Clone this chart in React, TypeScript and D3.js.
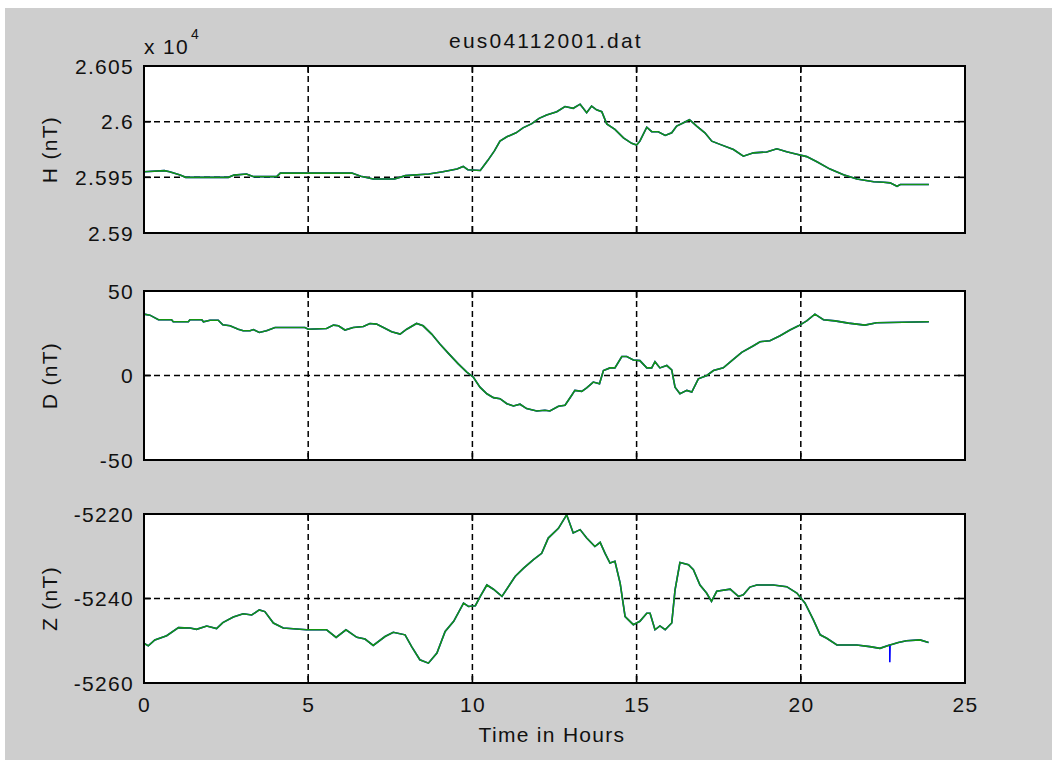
import React from "react";
import * as d3 from "d3";

// ---------- data ----------
const TITLE = "eus04112001.dat";
const X_LABEL = "Time in Hours";
const X_TICKS = [0, 5, 10, 15, 20, 25];

const H_LABEL = "H (nT)";
const H_TICKS = [25900, 25950, 26000, 26050];
const H_TICK_LABELS = ["2.59", "2.595", "2.6", "2.605"];
const H_POINTS: [number, number][] = [
  [0, 25955], [0.62, 25956], [0.78, 25955], [1.1, 25952], [1.27, 25950], [2.57, 25950],
  [2.74, 25952], [3.12, 25953], [3.34, 25950.6], [4.04, 25950.6], [4.15, 25953.8],
  [6.33, 25953.8], [6.6, 25951], [6.98, 25948.5], [7.63, 25948.5], [7.96, 25951.5],
  [8.67, 25953], [9.1, 25955], [9.53, 25957.4], [9.72, 25959.8], [9.86, 25956.8],
  [10.24, 25956.2], [10.46, 25964.8], [10.67, 25973.7], [10.84, 25982.5], [11.05, 25986.4],
  [11.33, 25990], [11.54, 25994.4], [11.81, 25998.2], [12.03, 26003], [12.26, 26006],
  [12.57, 26009], [12.82, 26013.6], [13.07, 26012], [13.28, 26015.7], [13.48, 26008],
  [13.63, 26014], [13.78, 26010.6], [13.94, 26009], [14.09, 25998], [14.34, 25993],
  [14.6, 25985.5], [14.85, 25980.5], [15.0, 25979], [15.1, 25982.5], [15.31, 25995],
  [15.46, 25991], [15.66, 25991], [15.87, 25987.6], [16.07, 25990], [16.22, 25996],
  [16.43, 25999], [16.61, 26001.8], [16.83, 25996], [17.08, 25990], [17.29, 25982.5],
  [17.54, 25979.6], [17.95, 25975], [18.25, 25969], [18.56, 25972], [18.96, 25972.8],
  [19.27, 25975.7], [19.57, 25973], [19.88, 25970.7], [20.18, 25968.6], [20.49, 25964],
  [20.89, 25957.4], [21.3, 25952.4], [21.71, 25948.5], [22.22, 25946], [22.52, 25945.6],
  [22.72, 25945], [22.93, 25942], [23.03, 25943.5], [23.9, 25943.5],
];

const D_LABEL = "D (nT)";
const D_TICKS = [-50, 0, 50];
const D_TICK_LABELS = ["-50", "0", "50"];
const D_POINTS: [number, number][] = [
  [0, 36.3], [0.18, 35.7], [0.44, 33], [0.84, 33], [0.89, 31.8], [1.35, 31.8], [1.4, 33],
  [1.76, 33], [1.81, 31.8], [2.01, 32.7], [2.26, 32.7], [2.4, 30], [2.62, 29.4], [2.87, 27.4],
  [3.02, 26.5], [3.23, 26.5], [3.33, 27.2], [3.51, 25.5], [3.73, 26.5], [3.99, 28.4],
  [4.9, 28.4], [5.0, 27.4], [5.56, 27.8], [5.77, 29.8], [5.92, 29.4], [6.12, 26.9],
  [6.37, 28.4], [6.68, 29], [6.88, 30.8], [7.08, 30.4], [7.29, 28.4], [7.54, 25.9],
  [7.8, 24.5], [8.0, 27.4], [8.3, 30.8], [8.5, 29.4], [8.76, 24.5], [9.01, 18.6],
  [9.27, 13.1], [9.57, 6.9], [9.83, 2], [10.03, -1], [10.23, -6.9], [10.44, -10.8],
  [10.64, -13.1], [10.84, -13.7], [11.05, -16.7], [11.25, -18], [11.45, -17], [11.65, -19.6],
  [11.96, -21], [12.21, -20.6], [12.36, -21], [12.62, -18.2], [12.82, -17.6], [13.02, -11.8],
  [13.12, -8.8], [13.33, -9.4], [13.48, -7.3], [13.68, -3.9], [13.87, -4.9], [13.99, 2.9],
  [14.19, 4.5], [14.34, 4.5], [14.55, 11.2], [14.7, 11.2], [14.9, 9.2], [15.1, 8.8],
  [15.31, 4.5], [15.46, 4.5], [15.56, 8.2], [15.71, 4.5], [15.92, 5.9], [16.07, 3.3],
  [16.17, -6.9], [16.32, -10.8], [16.53, -8.8], [16.68, -9.8], [16.88, -2], [17.14, 0],
  [17.34, 2.9], [17.64, 4.5], [17.9, 8.8], [18.2, 13.7], [18.56, 17.6], [18.76, 20],
  [19.06, 20.6], [19.37, 23.5], [19.67, 26.9], [19.93, 29.4], [20.18, 32.3], [20.43, 36.3],
  [20.69, 33], [21.04, 32.3], [21.45, 31], [21.95, 29.8], [22.31, 31.2], [23.9, 31.8],
];

const Z_LABEL = "Z (nT)";
const Z_TICKS = [-5260, -5240, -5220];
const Z_TICK_LABELS = ["-5260", "-5240", "-5220"];
const Z_POINTS: [number, number][] = [
  [0, -5250.6], [0.13, -5251.2], [0.33, -5249.8], [0.69, -5248.8], [1.05, -5246.9],
  [1.4, -5247], [1.6, -5247.3], [1.91, -5246.5], [2.21, -5247.1], [2.4, -5245.7],
  [2.72, -5244.4], [3.02, -5243.6], [3.28, -5243.9], [3.51, -5242.7], [3.68, -5243.1],
  [3.94, -5245.8], [4.24, -5247], [4.95, -5247.4], [5.56, -5247.4], [5.85, -5249.2],
  [6.15, -5247.4], [6.48, -5249.2], [6.73, -5249.6], [6.98, -5251.1], [7.34, -5249],
  [7.59, -5248], [7.95, -5248.6], [8.15, -5251.4], [8.4, -5254.5], [8.66, -5255.3],
  [8.92, -5252.9], [9.17, -5247.8], [9.43, -5245.4], [9.73, -5241.1], [9.88, -5241.9],
  [10.09, -5241.7], [10.24, -5239.5], [10.44, -5236.8], [10.64, -5237.8], [10.9, -5239.5],
  [11.3, -5234.8], [11.56, -5232.8], [11.86, -5230.8], [12.11, -5229.3], [12.31, -5225.7],
  [12.62, -5223.4], [12.87, -5220.2], [13.07, -5224.5], [13.28, -5223.7], [13.48, -5225.7],
  [13.73, -5227.7], [13.89, -5226.7], [14.04, -5229.3], [14.19, -5231.6], [14.34, -5231.2],
  [14.5, -5236.4], [14.65, -5244.3], [14.9, -5246.2], [15.1, -5245.4], [15.31, -5243.5],
  [15.41, -5243.5], [15.56, -5247.4], [15.71, -5246.5], [15.87, -5247.4], [16.07, -5245.8],
  [16.17, -5238], [16.32, -5231.5], [16.58, -5232], [16.73, -5233.2], [16.93, -5236.8],
  [17.13, -5238.7], [17.28, -5240.7], [17.44, -5238.3], [17.85, -5237.8], [18.1, -5239.5],
  [18.25, -5239.1], [18.45, -5237.3], [18.66, -5236.8], [19.16, -5236.8], [19.57, -5237.2],
  [19.88, -5238.7], [20.13, -5241.1], [20.38, -5245], [20.59, -5248.6], [20.79, -5249.4],
  [21.1, -5251], [21.7, -5251], [22.1, -5251.4], [22.41, -5251.8], [22.71, -5251],
  [22.97, -5250.4], [23.22, -5250], [23.63, -5249.8], [23.89, -5250.4],
];
// raw (blue) Z has a one-sample spike
const Z_RAW_SPIKE: [number, number][] = [[22.7, -5251], [22.71, -5255.1], [22.72, -5251]];

// ---------- layout ----------
const W = 1052;
const H = 760;
const LEFT = 144;
const RIGHT = 965;
const FONT = "'Liberation Sans', Arial, sans-serif";
const FS = 21;
const LS = 1.3;

type Panel = {
  top: number;
  bottom: number;
  domain: [number, number];
  ticks: number[];
  tickLabels: string[];
  label: string;
  green: [number, number][];
  blue: [number, number][];
};

const PANELS: Panel[] = [
  {
    top: 66, bottom: 233, domain: [25900, 26050], ticks: H_TICKS, tickLabels: H_TICK_LABELS,
    label: H_LABEL, green: H_POINTS, blue: H_POINTS,
  },
  {
    top: 291, bottom: 460, domain: [-50, 50], ticks: D_TICKS, tickLabels: D_TICK_LABELS,
    label: D_LABEL, green: D_POINTS, blue: D_POINTS,
  },
  {
    top: 514, bottom: 683, domain: [-5260, -5220], ticks: Z_TICKS, tickLabels: Z_TICK_LABELS,
    label: Z_LABEL, green: Z_POINTS,
    blue: [...Z_POINTS, ...Z_RAW_SPIKE].sort((a, b) => a[0] - b[0]),
  },
];

export default function App() {
  const x = d3.scaleLinear().domain([0, 25]).range([LEFT, RIGHT]);
  const TICK = 7;

  return (
    <div style={{ position: "absolute", left: 0, top: 0, width: W, height: H }}>
      <svg width={W} height={H} style={{ display: "block" }} fontFamily={FONT}>
        <rect x={0} y={0} width={W} height={H} fill="#ffffff" />
        <rect x={5} y={8} width={W - 5} height={H - 8} fill="#cecece" />
        <defs>
          {PANELS.map((p, i) => (
            <clipPath id={`clip${i}`} key={i}>
              <rect x={LEFT} y={p.top} width={RIGHT - LEFT} height={p.bottom - p.top} />
            </clipPath>
          ))}
        </defs>

        {PANELS.map((p, i) => {
          const y = d3.scaleLinear().domain(p.domain).range([p.bottom, p.top]);
          const line = d3
            .line<[number, number]>()
            .x((d) => x(d[0]))
            .y((d) => y(d[1]));
          const isLast = i === PANELS.length - 1;
          return (
            <g key={i}>
              <rect x={LEFT} y={p.top} width={RIGHT - LEFT} height={p.bottom - p.top} fill="#ffffff" />
              {/* grid */}
              {X_TICKS.filter((t) => t > 0 && t < 25).map((t) => (
                <line key={`gx${t}`} x1={x(t)} x2={x(t)} y1={p.top} y2={p.bottom}
                  stroke="#000" strokeWidth={1.5} strokeDasharray="6,4" />
              ))}
              {p.ticks.slice(1, -1).map((t) => (
                <line key={`gy${t}`} x1={LEFT} x2={RIGHT} y1={y(t)} y2={y(t)}
                  stroke="#000" strokeWidth={1.5} strokeDasharray="6,4" />
              ))}
              {/* ticks (inside) */}
              {X_TICKS.map((t) => (
                <g key={`tx${t}`}>
                  <line x1={x(t)} x2={x(t)} y1={p.bottom} y2={p.bottom - TICK} stroke="#000" strokeWidth={1.6} />
                  <line x1={x(t)} x2={x(t)} y1={p.top} y2={p.top + TICK} stroke="#000" strokeWidth={1.6} />
                </g>
              ))}
              {p.ticks.map((t) => (
                <g key={`ty${t}`}>
                  <line x1={LEFT} x2={LEFT + TICK} y1={y(t)} y2={y(t)} stroke="#000" strokeWidth={1.6} />
                  <line x1={RIGHT} x2={RIGHT - TICK} y1={y(t)} y2={y(t)} stroke="#000" strokeWidth={1.6} />
                </g>
              ))}
              {/* data */}
              <g clipPath={`url(#clip${i})`}>
                <path d={line(p.blue) || ""} fill="none" stroke="#0000ff" strokeWidth={1.6}
                  strokeLinejoin="miter" />
                <path d={line(p.green) || ""} fill="none" stroke="#139413" strokeWidth={1.6}
                  strokeLinejoin="miter" />
              </g>
              {/* box */}
              <rect x={LEFT} y={p.top} width={RIGHT - LEFT} height={p.bottom - p.top}
                fill="none" stroke="#000" strokeWidth={2} />
              {/* y tick labels */}
              {p.ticks.map((t, k) => (
                <text key={`yl${t}`} x={134} y={y(t)} textAnchor="end" dominantBaseline="central"
                  fontSize={FS} letterSpacing={LS} fill="#111">
                  {p.tickLabels[k]}
                </text>
              ))}
              {/* y label */}
              <text transform={`translate(57,${(p.top + p.bottom) / 2}) rotate(-90)`}
                textAnchor="middle" fontSize={FS} letterSpacing={LS} fill="#111">
                {p.label}
              </text>
              {isLast &&
                X_TICKS.map((t) => (
                  <text key={`xl${t}`} x={x(t) + 0.6} y={712} textAnchor="middle"
                    fontSize={FS} letterSpacing={LS} fill="#111">
                    {String(t)}
                  </text>
                ))}
            </g>
          );
        })}

        {/* exponent label */}
        <text x={144} y={54} fontSize={FS} letterSpacing={LS} fill="#111">x 10</text>
        <text x={191} y={39} fontSize={14} fill="#111">4</text>

        {/* title */}
        <text x={546} y={48} textAnchor="middle" fontSize={FS} letterSpacing={2.2} fill="#111">
          {TITLE}
        </text>
        {/* x label */}
        <text x={552} y={742} textAnchor="middle" fontSize={FS} letterSpacing={LS} fill="#111">
          {X_LABEL}
        </text>
      </svg>
    </div>
  );
}
